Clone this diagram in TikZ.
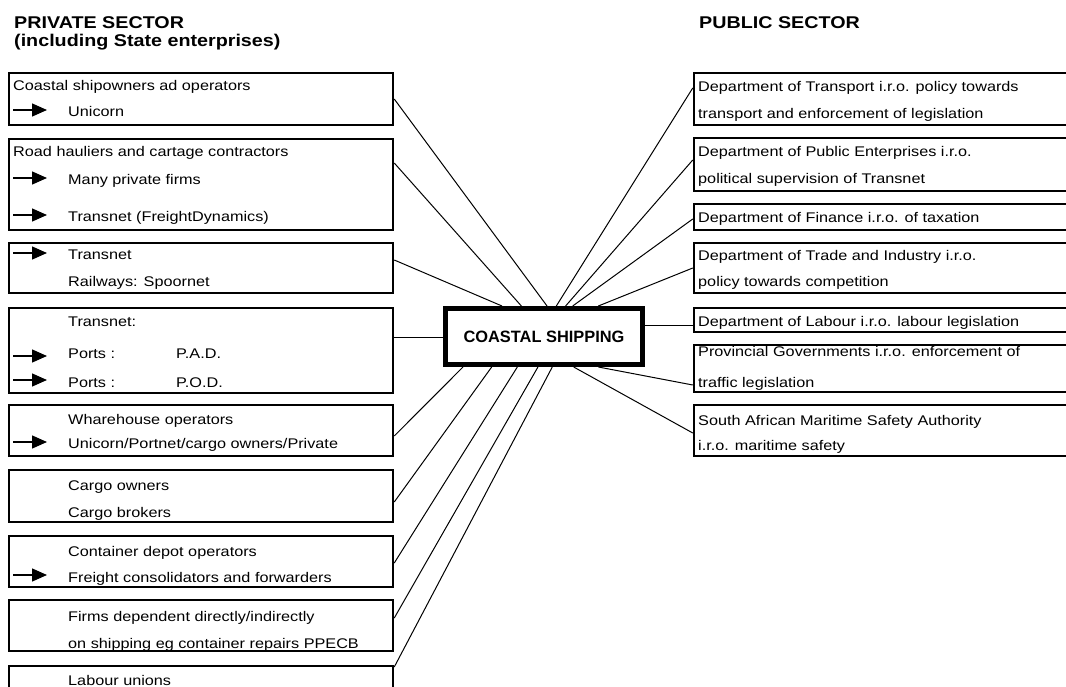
\documentclass[tikz,border=0pt]{standalone}
\usepackage{fontspec}
\setmainfont{Liberation Sans}[FakeStretch=1.16]
\newfontfamily\hubfont{Liberation Sans}
\usetikzlibrary{arrows.meta,calc}

\begin{document}
\begin{tikzpicture}[x=1pt, y=-1pt,
    sector/.style={
        rectangle, draw, line width=2.5pt, inner sep=0pt,
        minimum width=384pt
    },
    official/.style={sector, minimum width=386pt},
    hub/.style={
        rectangle, draw, line width=5pt, inner sep=0pt,
        minimum width=197pt, minimum height=56pt,
        font=\hubfont\bfseries\fontsize{16.4}{18}\selectfont
    },
    entry/.style={anchor=base west, inner sep=0pt},
    link/.style={line width=1pt},
    ptr/.style={line width=1.4pt, -{Triangle[length=15pt,width=13pt]}}
    ]
    \useasboundingbox (0,0) rectangle (1066,687);
    \clip (0,0) rectangle (1066,687);

    % headings
    \fontsize{17}{19}\selectfont\bfseries
    \node [entry] (hpriv) at (14, 29) {PRIVATE SECTOR};
    \node [entry] (hincl) at (14, 47) {(including State enterprises)};
    \node [entry] (hpub) at (699, 29) {PUBLIC SECTOR};

    \fontsize{14}{16}\selectfont\mdseries
    % private sector
    \node [sector, minimum height=52pt] (b1) at (201, 99) {};
    \node [sector, minimum height=91pt] (b2) at (201, 184.5) {};
    \node [sector, minimum height=50pt] (b3) at (201, 268) {};
    \node [sector, minimum height=85pt] (b4) at (201, 350.5) {};
    \node [sector, minimum height=51pt] (b5) at (201, 430.5) {};
    \node [sector, minimum height=52pt] (b6) at (201, 496) {};
    \node [sector, minimum height=51pt] (b7) at (201, 561.5) {};
    \node [sector, minimum height=51pt] (b8) at (201, 625.5) {};
    \node [sector, minimum height=54pt] (b9) at (201, 693) {};

    \node [entry] (b1a) at (13, 91) {Coastal shipowners ad operators};
    \node [entry] (b1b) at (68, 117) {Unicorn};
    \node [entry] (b2a) at (13, 157) {Road hauliers and cartage contractors};
    \node [entry] (b2b) at (68, 185) {Many private firms};
    \node [entry] (b2c) at (68, 222) {Transnet (FreightDynamics)};
    \node [entry] (b3a) at (68, 260) {Transnet};
    \node [entry] (b3b) at (68, 287) {Railways: Spoornet};
    \node [entry] (b4a) at (68, 326) {Transnet:};
    \node [entry] (b4b) at (68, 358) {Ports :};  \node [entry] (b4c) at (176, 358) {P.A.D.};
    \node [entry] (b4d) at (68, 387) {Ports :};  \node [entry] (b4e) at (176, 387) {P.O.D.};
    \node [entry] (b5a) at (68, 424) {Wharehouse operators};
    \node [entry] (b5b) at (68, 448) {Unicorn/Portnet/cargo owners/Private};
    \node [entry] (b6a) at (68, 490) {Cargo owners};
    \node [entry] (b6b) at (68, 517) {Cargo brokers};
    \node [entry] (b7a) at (68, 556) {Container depot operators};
    \node [entry] (b7b) at (68, 582) {Freight consolidators and forwarders};
    \node [entry] (b8a) at (68, 621) {Firms dependent directly/indirectly};
    \node [entry] (b8b) at (68, 648) {on shipping eg container repairs PPECB};
    \node [entry] (b9a) at (68, 685) {Labour unions};

    \foreach \y in {110,178,215,253,356,380,442,575}
        \draw [ptr] (13,\y) -- (47,\y);

    % public sector
    \node [official, minimum height=52pt] (r1) at (887, 99) {};
    \node [official, minimum height=53pt] (r2) at (887, 164.5) {};
    \node [official, minimum height=26pt] (r3) at (887, 217) {};
    \node [official, minimum height=50pt] (r4) at (887, 268) {};
    \node [official, minimum height=24pt] (r5) at (887, 320) {};
    \node [official, minimum height=47pt] (r6) at (887, 368.5) {};
    \node [official, minimum height=51pt] (r7) at (887, 430.5) {};

    \node [entry] (r1a) at (698, 92) {Department of Transport i.r.o. policy towards};
    \node [entry] (r1b) at (698, 119) {transport and enforcement of legislation};
    \node [entry] (r2a) at (698, 157) {Department of Public Enterprises i.r.o.};
    \node [entry] (r2b) at (698, 184) {political supervision of Transnet};
    \node [entry] (r3a) at (698, 223) {Department of Finance i.r.o. of taxation};
    \node [entry] (r4a) at (698, 261) {Department of Trade and Industry i.r.o.};
    \node [entry] (r4b) at (698, 287) {policy towards competition};
    \node [entry] (r5a) at (698, 326) {Department of Labour i.r.o. labour legislation};
    \node [entry] (r6a) at (698, 356) {Provincial Governments i.r.o. enforcement of};
    \node [entry] (r6b) at (698, 387) {traffic legislation};
    \node [entry] (r7a) at (698, 425) {South African Maritime Safety Authority};
    \node [entry] (r7b) at (698, 450) {i.r.o. maritime safety};

    % hub
    \node [hub] (cs) at (544, 336.5) {COASTAL SHIPPING};

    % links, top side
    \draw [link] (b1.east) -- ($(cs.north west)!.515!(cs.north east)$);
    \draw [link] ([yshift=21.5pt]b2.east) -- ($(cs.north west)!.388!(cs.north east)$);
    \draw [link] ([yshift=8pt]b3.east) -- ($(cs.north west)!.292!(cs.north east)$);
    \draw [link] ([yshift=11pt]r1.west) -- ($(cs.north west)!.561!(cs.north east)$);
    \draw [link] ([yshift=4.5pt]r2.west) -- ($(cs.north west)!.607!(cs.north east)$);
    \draw [link] ([yshift=-2pt]r3.west) -- ($(cs.north west)!.642!(cs.north east)$);
    \draw [link] (r4.west) -- ($(cs.north west)!.769!(cs.north east)$);
    % links, sides
    \draw [link] ([yshift=13.5pt]b4.east) coordinate (l4) -- (l4 -| cs.west);
    \draw [link] ([yshift=-5pt]r5.west) coordinate (l5) -- (l5 -| cs.east);
    % links, bottom side
    \draw [link] ([yshift=-5.5pt]b5.east) -- ($(cs.south west)!.099!(cs.south east)$);
    \draw [link] ([yshift=-6pt]b6.east) -- ($(cs.south west)!.241!(cs.south east)$);
    \draw [link] ([yshift=-1.5pt]b7.east) -- ($(cs.south west)!.368!(cs.south east)$);
    \draw [link] ([yshift=7.5pt]b8.east) -- ($(cs.south west)!.47!(cs.south east)$);
    \draw [link] ([yshift=26pt]b9.east) -- ($(cs.south west)!.541!(cs.south east)$);
    \draw [link] ([yshift=-2.5pt]r7.west) -- ($(cs.south west)!.647!(cs.south east)$);
    \draw [link] ([yshift=-16.5pt]r6.west) -- ($(cs.south west)!.769!(cs.south east)$);
\end{tikzpicture}
\end{document}
